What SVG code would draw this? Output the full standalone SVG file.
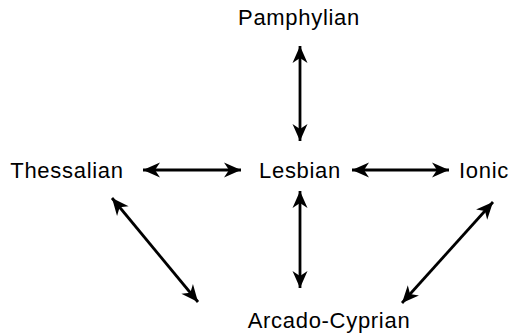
<svg xmlns="http://www.w3.org/2000/svg" width="521" height="334" viewBox="0 0 521 334">
  <style>
    .label { font-family: "Liberation Sans", Arial, sans-serif; font-size: 22px; letter-spacing: 0.7px; fill: #000; text-anchor: middle; }
    .link { stroke: #000; stroke-width: 2.8; fill: none; marker-start: url(#head); marker-end: url(#head); }
  </style>
  <defs>
    <marker id="head" viewBox="-19 -9 21 18" refX="0" refY="0" markerWidth="21" markerHeight="18" markerUnits="userSpaceOnUse" orient="auto-start-reverse">
      <path d="M0,0 L-17,-7.5 L-12,0 L-17,7.5 Z" fill="#000"/>
    </marker>
  </defs>
  <rect width="521" height="334" fill="#fff"/>

  <g id="connectors">
    <line class="link" x1="300" y1="46" x2="300" y2="141"/>
    <line class="link" x1="143" y1="170" x2="241" y2="170"/>
    <line class="link" x1="352" y1="170" x2="449" y2="170"/>
    <line class="link" x1="300" y1="191" x2="300" y2="288"/>
    <line class="link" x1="112" y1="198" x2="198" y2="302"/>
    <line class="link" x1="493" y1="202" x2="402" y2="303"/>
  </g>

  <g id="pamphylian"><text class="label" x="299" y="25">Pamphylian</text></g>
  <g id="thessalian"><text class="label" x="67" y="178">Thessalian</text></g>
  <g id="lesbian"><text class="label" x="300" y="178">Lesbian</text></g>
  <g id="ionic"><text class="label" x="484" y="178">Ionic</text></g>
  <g id="arcado-cyprian"><text class="label" x="329" y="328">Arcado-Cyprian</text></g>
</svg>
